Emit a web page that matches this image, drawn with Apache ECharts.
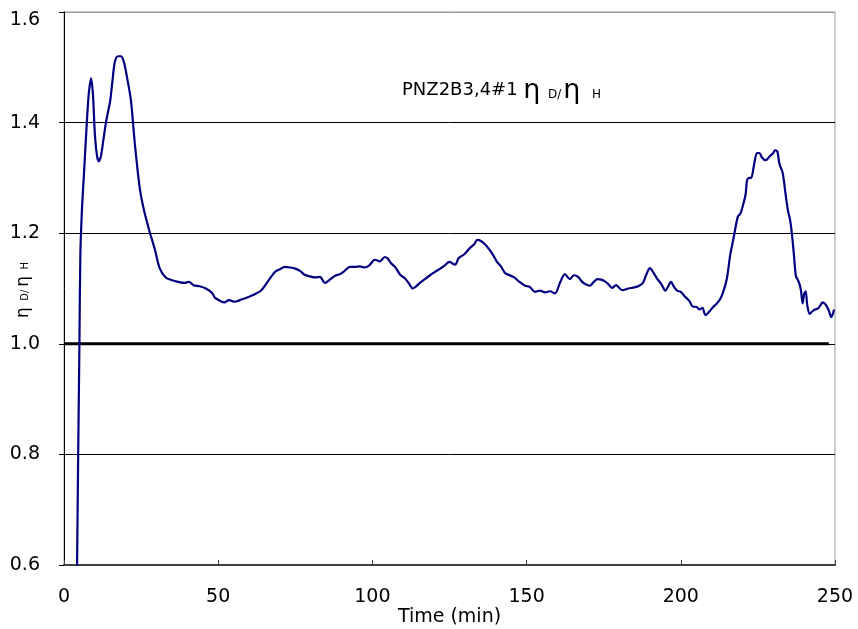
<!DOCTYPE html>
<html>
<head>
<meta charset="utf-8">
<script src="https://cdn.jsdelivr.net/npm/echarts@6/dist/echarts.min.js"></script>
<style>
  html, body { margin: 0; padding: 0; background: #fff; }
  #main { width: 858px; height: 629px; }
</style>
</head>
<body>
<div id="main"></div>
<script>
// time (min) and ratio
var timeMin = [4.2, 4.6, 5.0, 5.3, 5.8, 6.5, 7.2, 8.0, 8.8, 9.4, 10.0, 10.7, 11.3, 12.0, 12.8, 13.6, 14.3, 15.0, 15.8, 16.5, 17.5, 18.5, 19.4, 20.5, 21.7, 23.0, 24.6, 26.0, 27.9, 29.5, 31.0, 33.0, 35.0, 37.0, 39.0, 40.5, 42.0, 44.0, 46.0, 48.0, 49.0, 50.5, 52.0, 53.5, 55.4, 57.5, 60.0, 62.0, 64.0, 66.0, 68.4, 70.0, 71.7, 73.3, 75.0, 76.5, 78.0, 79.7, 81.4, 83.0, 84.6, 86.2, 87.9, 89.5, 91.0, 92.7, 94.3, 96.0, 97.5, 99.0, 100.8, 102.4, 104.0, 105.0, 106.0, 107.5, 109.0, 110.6, 112.0, 113.0, 114.2, 115.4, 117.0, 118.7, 120.3, 122.0, 123.5, 125.0, 126.8, 128.0, 129.8, 131.6, 133.0, 134.0, 135.2, 136.5, 138.0, 139.2, 140.4, 141.7, 143.0, 144.5, 146.0, 147.7, 149.5, 151.0, 152.7, 154.3, 156.0, 157.6, 159.2, 160.8, 162.4, 164.0, 165.3, 166.7, 168.0, 169.0, 170.5, 171.8, 173.0, 174.2, 175.4, 176.5, 177.7, 179.0, 181.0, 183.0, 185.0, 186.5, 187.7, 188.8, 190.0, 191.2, 192.3, 193.7, 195.0, 196.0, 196.8, 197.8, 198.8, 200.0, 201.4, 202.7, 204.0, 205.0, 206.0, 207.0, 208.0, 209.2, 210.4, 211.5, 212.7, 214.0, 215.0, 216.0, 217.0, 218.5, 219.3, 220.0, 221.0, 221.5, 222.2, 222.8, 223.8, 224.7, 225.5, 226.3, 227.5, 229.0, 230.0, 230.5, 231.3, 232.0, 233.0, 234.0, 234.7, 235.4, 236.0, 236.7, 237.3, 238.0, 238.5, 239.0, 239.5, 240.0, 240.5, 241.0, 241.8, 242.5, 243.5, 244.5, 245.3, 246.0, 247.0, 248.0, 248.8, 249.7];
var etaRatio = [0.58, 0.80, 1.00, 1.16, 1.24, 1.31, 1.38, 1.45, 1.48, 1.45, 1.38, 1.34, 1.33, 1.34, 1.37, 1.40, 1.42, 1.44, 1.48, 1.51, 1.52, 1.52, 1.51, 1.48, 1.44, 1.36, 1.28, 1.24, 1.20, 1.17, 1.137, 1.12, 1.115, 1.112, 1.110, 1.112, 1.106, 1.104, 1.100, 1.092, 1.083, 1.078, 1.075, 1.079, 1.076, 1.080, 1.085, 1.090, 1.097, 1.112, 1.130, 1.135, 1.139, 1.138, 1.136, 1.132, 1.125, 1.122, 1.120, 1.121, 1.110, 1.116, 1.123, 1.126, 1.132, 1.139, 1.139, 1.140, 1.138, 1.142, 1.152, 1.149, 1.157, 1.154, 1.146, 1.138, 1.125, 1.118, 1.108, 1.100, 1.104, 1.110, 1.117, 1.124, 1.130, 1.136, 1.142, 1.148, 1.143, 1.155, 1.162, 1.173, 1.180, 1.188, 1.186, 1.180, 1.170, 1.160, 1.148, 1.140, 1.128, 1.124, 1.120, 1.112, 1.105, 1.103, 1.094, 1.096, 1.093, 1.095, 1.091, 1.110, 1.126, 1.117, 1.124, 1.121, 1.112, 1.108, 1.105, 1.112, 1.117, 1.116, 1.113, 1.108, 1.101, 1.106, 1.097, 1.100, 1.102, 1.105, 1.110, 1.125, 1.137, 1.128, 1.118, 1.108, 1.096, 1.105, 1.112, 1.103, 1.096, 1.094, 1.085, 1.078, 1.067, 1.067, 1.062, 1.065, 1.052, 1.058, 1.066, 1.072, 1.080, 1.098, 1.120, 1.160, 1.188, 1.230, 1.235, 1.247, 1.270, 1.296, 1.300, 1.300, 1.325, 1.345, 1.345, 1.337, 1.332, 1.340, 1.345, 1.350, 1.348, 1.325, 1.310, 1.270, 1.242, 1.225, 1.200, 1.160, 1.123, 1.115, 1.108, 1.095, 1.073, 1.090, 1.095, 1.070, 1.054, 1.058, 1.062, 1.064, 1.070, 1.075, 1.071, 1.060, 1.048, 1.062, 1.094];

var xTicks = [0, 50, 100, 150, 200, 250];
var yTicks = [0.6, 0.8, 1.0, 1.2, 1.4, 1.6];
var baseLine = [[0, 1.0], [248, 1.0]];

var curve = timeMin.map(function (t, i) { return [t, etaRatio[i]]; });

var chart = echarts.init(document.getElementById('main'), null, { renderer: 'canvas' });

var labelFont = 'DejaVu Sans';

var option = {
  animation: false,
  backgroundColor: '#fff',
  textStyle: { fontFamily: labelFont },
  grid: {
    left: 64, right: 23, top: 12, bottom: 64,
    outerBoundsMode: 'none',
    containLabel: false,
    show: true, borderColor: '#9a9a9a', borderWidth: 1
  },
  graphic: [{
    type: 'text',
    left: 402, top: 77,
    style: {
      text: '{a|PNZ2B3,4#1 }{e|η}{s|  D/}{e|η}{s|   H}',
      rich: {
        a: { fontSize: 18, fill: '#000', fontFamily: labelFont },
        e: { fontSize: 27, fill: '#000', fontFamily: labelFont },
        s: { fontSize: 12, fill: '#000', fontFamily: labelFont, padding: [8, 2, 0, 0] }
      }
    }
  }],
  xAxis: {
    type: 'value',
    min: xTicks[0], max: xTicks[xTicks.length - 1], interval: 50,
    name: 'Time (min)',
    nameLocation: 'middle',
    nameGap: 43,
    nameMoveOverlap: false,
    nameTextStyle: { fontSize: 19, color: '#000', fontFamily: labelFont },
    axisLine: { onZero: false, lineStyle: { color: '#404040', width: 2 } },
    axisTick: { inside: true, length: 5, lineStyle: { color: '#404040' } },
    axisLabel: { fontSize: 19, color: '#000', margin: 23, fontFamily: labelFont },
    splitLine: { show: false }
  },
  yAxis: {
    type: 'value',
    min: yTicks[0], max: yTicks[yTicks.length - 1], interval: 0.2,
    name: '{e|η}{s|  D/}{e|η}{s|  H}',
    nameLocation: 'middle',
    nameGap: 32,
    nameMoveOverlap: false,
    nameTextStyle: {
      rich: {
        e: { fontSize: 17, color: '#000', fontFamily: labelFont },
        s: { fontSize: 10, color: '#000', fontFamily: labelFont, padding: [4, 3, 0, 0] }
      }
    },
    axisLine: { lineStyle: { color: '#000', width: 1 } },
    axisTick: { length: 5, lineStyle: { color: '#000' } },
    axisLabel: {
      fontSize: 19, color: '#000', margin: 24, fontFamily: labelFont,
      formatter: function (v) {
        var s = v.toFixed(1);
        return v > 1.55 ? '{t|' + s + '}' : s;
      },
      rich: {
        t: { fontSize: 19, color: '#000', fontFamily: labelFont, padding: [16, 0, 0, 0] }
      }
    },
    splitLine: {
      show: true,
      lineStyle: { color: ['#000', '#000', '#000', '#000', '#000', '#9a9a9a'], width: 1 }
    }
  },
  series: [
    {
      type: 'line',
      data: baseLine,
      symbol: 'none',
      silent: true,
      lineStyle: { color: '#000', width: 3 }
    },
    {
      type: 'line',
      data: curve,
      symbol: 'none',
      smooth: 0.3,
      clip: true,
      lineStyle: { color: '#000080', width: 2.2 }
    }
  ]
};

chart.setOption(option);
window.addEventListener('resize', chart.resize);
</script>
</body>
</html>
